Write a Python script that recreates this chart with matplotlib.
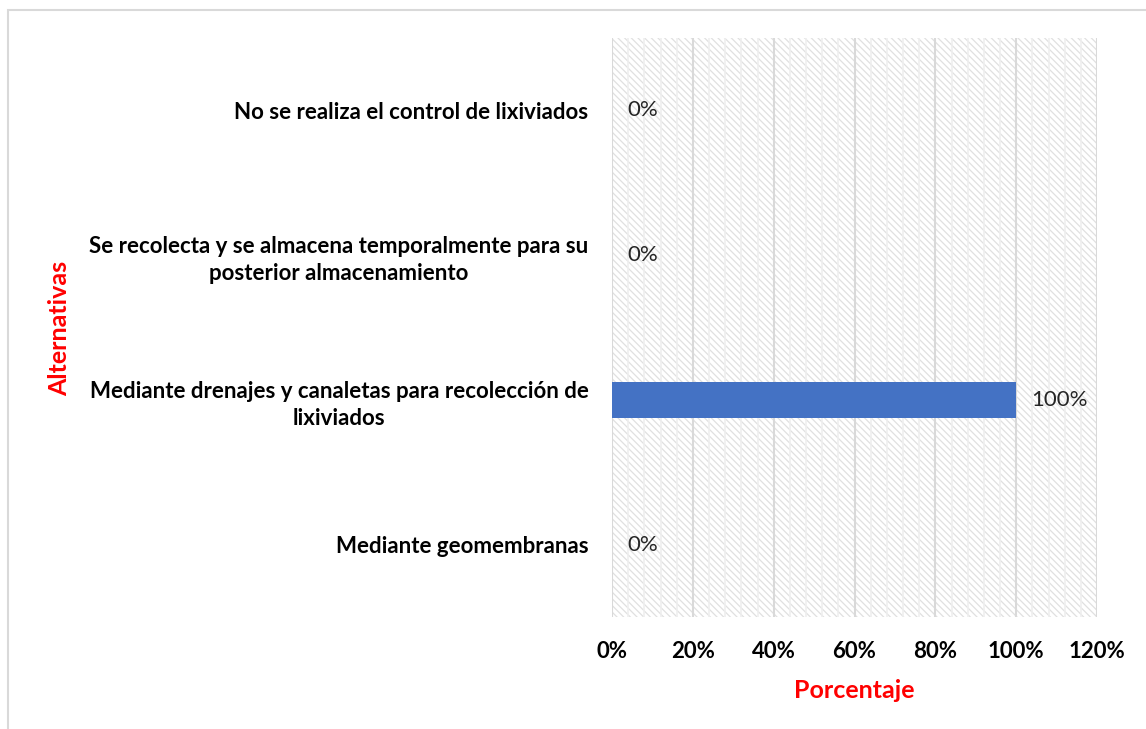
import matplotlib
matplotlib.use("Agg")
import matplotlib.pyplot as plt
from matplotlib.patches import Rectangle
from matplotlib.ticker import MultipleLocator, FuncFormatter

categories = [
    "Mediante geomembranas",
    "Mediante drenajes y canaletas para recolección de\nlixiviados",
    "Se recolecta y se almacena temporalmente para su\nposterior almacenamiento",
    "No se realiza el control de lixiviados",
]
values = [0, 100, 0, 0]

FONT = ["Lato", "DejaVu Sans"]
plt.rcParams['font.family'] = FONT
plt.rcParams['hatch.linewidth'] = 0.9

W, H = 1146, 729
fig = plt.figure(figsize=(W / 100, H / 100), dpi=100)
fig.patch.set_facecolor("white")

# outer chart border
fig.add_artist(Rectangle((8 / W, -0.05), 1.2, 1 - 10 / H + 0.05,
                         transform=fig.transFigure, fill=False,
                         edgecolor="#d9d9d9", lw=1.5))

ax = fig.add_axes([612 / W, 1 - 617 / H, (1097 - 612) / W, (617 - 38) / H])
ax.set_facecolor("white")

# hatched plot area background
ax.add_patch(Rectangle((0, 0), 1, 1, transform=ax.transAxes,
                       facecolor="white", edgecolor="#e0e0e0",
                       hatch="\\\\\\\\\\", lw=0, zorder=0))

ypos = list(range(len(categories)))
ax.barh(ypos, values, height=0.25, color="#4472c4", zorder=3)

for y, v in zip(ypos, values):
    ax.text(v + 3.7, y, f"{v}%", va="center", ha="left",
            fontsize=16, color="#262626", zorder=4)

ax.set_xlim(0, 120)
ax.set_ylim(-0.5, len(categories) - 0.5)
ax.xaxis.set_major_locator(MultipleLocator(20))
ax.xaxis.set_minor_locator(MultipleLocator(4))
ax.xaxis.set_major_formatter(FuncFormatter(lambda x, p: f"{int(round(x))}%"))
ax.set_yticks(ypos)
ax.set_yticklabels(categories, fontsize=16, fontweight="bold",
                   multialignment="center", linespacing=1.35)

ax.grid(True, axis="x", which="major", color="#d9d9d9", lw=1.5, zorder=1)
ax.grid(True, axis="x", which="minor", color="#efefef", lw=1.2, zorder=1)
ax.set_axisbelow(True)

for s in ax.spines.values():
    s.set_visible(False)
ax.tick_params(axis="both", which="both", length=0)
ax.tick_params(axis="x", pad=17, labelsize=16)
ax.tick_params(axis="y", pad=17)
for lbl in ax.get_xticklabels():
    lbl.set_fontweight("bold")

fig.text(854 / W, 1 - 690 / H, "Porcentaje", color="#ff0000",
         fontsize=18, fontweight="bold", ha="center", va="center")
fig.text(60 / W, 1 - 328 / H, "Alternativas", color="#ff0000",
         fontsize=18, fontweight="bold", ha="center", va="center",
         rotation=90)

fig.savefig("out.png", dpi=100, facecolor="white")
